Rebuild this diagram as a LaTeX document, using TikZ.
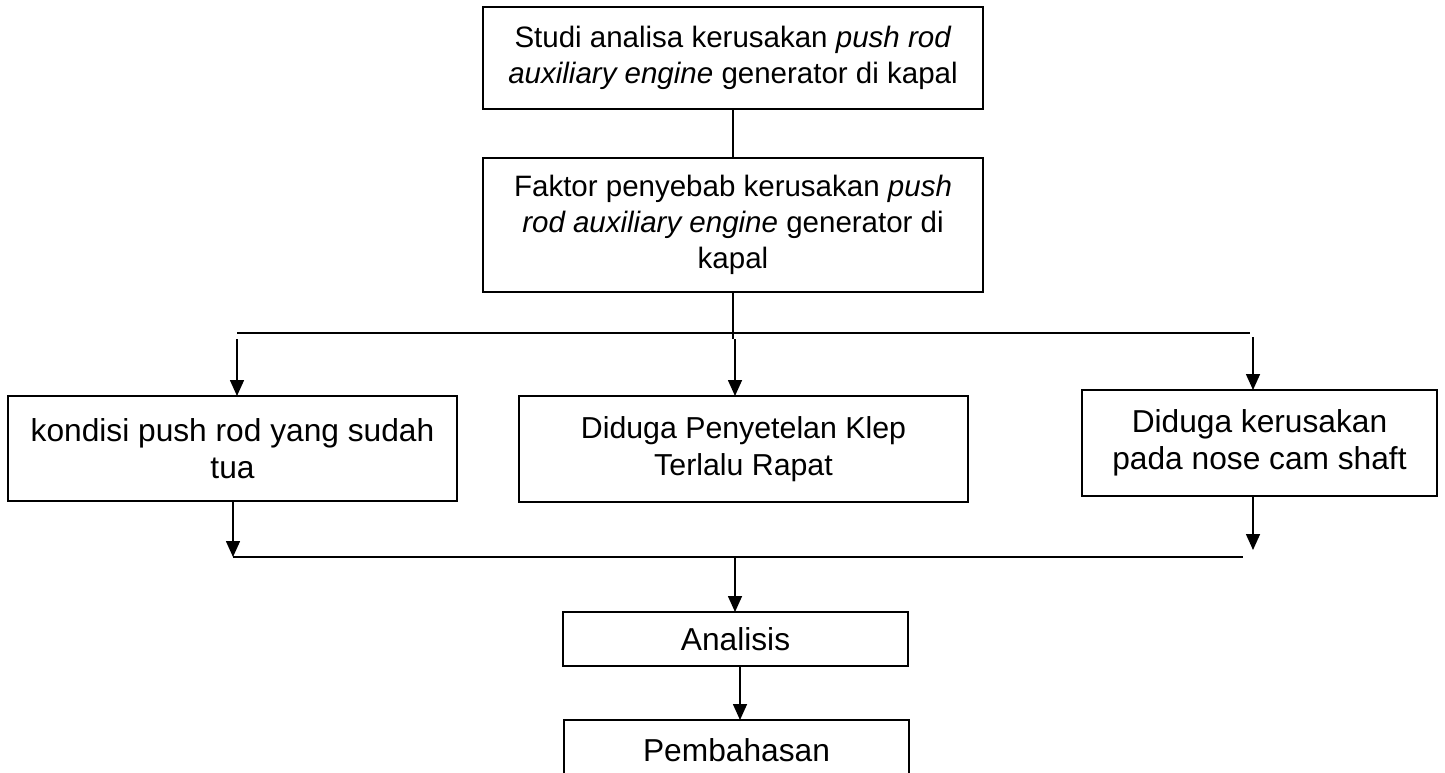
\documentclass[tikz,border=0pt]{standalone}
\usepackage{fontspec}
\setmainfont{Liberation Sans}
\usetikzlibrary{arrows.meta}
\begin{document}
\begin{tikzpicture}[x=1pt,y=-1pt,
  every path/.style={line width=1.6pt},
  boxnode/.style={draw,line width=1.6pt,inner sep=0pt,outer sep=0pt,align=center,
    font={\fontsize{29.5}{36}\selectfont}},
  bigbox/.style={boxnode,font={\fontsize{31.7}{37}\selectfont}},
  midbox/.style={boxnode,font={\fontsize{30.3}{36.5}\selectfont}},
  arr/.style={-{Triangle[width=14pt,length=16pt]}}]
\useasboundingbox (0,0) rectangle (1445,773);
\node[boxnode,minimum width=500,minimum height=102] (st) at (733,58)
  {Studi analisa kerusakan \textit{push rod}\\\textit{auxiliary engine} generator di kapal};
\node[boxnode,minimum width=500,minimum height=134] (fk) at (733,225)
  {Faktor penyebab kerusakan \textit{push}\\\textit{rod auxiliary engine} generator di\\kapal};
\node[bigbox,minimum width=449,minimum height=105] (k1) at (232.5,448.5)
  {kondisi push rod yang sudah\\tua};
\node[midbox,minimum width=449,minimum height=106] (d1) at (743.5,449)
  {Diduga Penyetelan Klep\\Terlalu Rapat};
\node[bigbox,minimum width=355,minimum height=106] (d2) at (1259.5,443)
  {Diduga kerusakan\\pada nose cam shaft};
\node[bigbox,minimum width=345,minimum height=54] (an) at (735.5,639) {Analisis};
\node[bigbox,minimum width=345,minimum height=60] (pb) at (736.5,750) {Pembahasan};
% top connectors
\draw (st.south) -- (fk.north);
\coordinate (tl) at (237,333);
\coordinate (tr) at (1250,333);
\coordinate (tj) at (733,339);
\draw (tl) -- (tr);
\draw (fk.south) -- (tj);
\coordinate (a1) at (237,339);
\coordinate (a2) at (735,339);
\coordinate (a3) at (1253,337);
\draw[arr] (a1) -- (a1 |- k1.north);
\draw[arr] (a2) -- (a2 |- d1.north);
\draw[arr] (a3) -- (a3 |- d2.north);
% bottom connectors
\coordinate (b1) at (233,557);
\coordinate (bR) at (1243,557);
\coordinate (b3) at (1253,550);
\coordinate (b2) at (735,557);
\draw[arr] (b1 |- k1.south) -- (b1);
\draw[arr] (b3 |- d2.south) -- (b3);
\draw (b1) -- (bR);
\draw[arr] (b2) -- (b2 |- an.north);
\coordinate (c1) at (740,666);
\draw[arr] (c1) -- (c1 |- pb.north);
\end{tikzpicture}
\end{document}
